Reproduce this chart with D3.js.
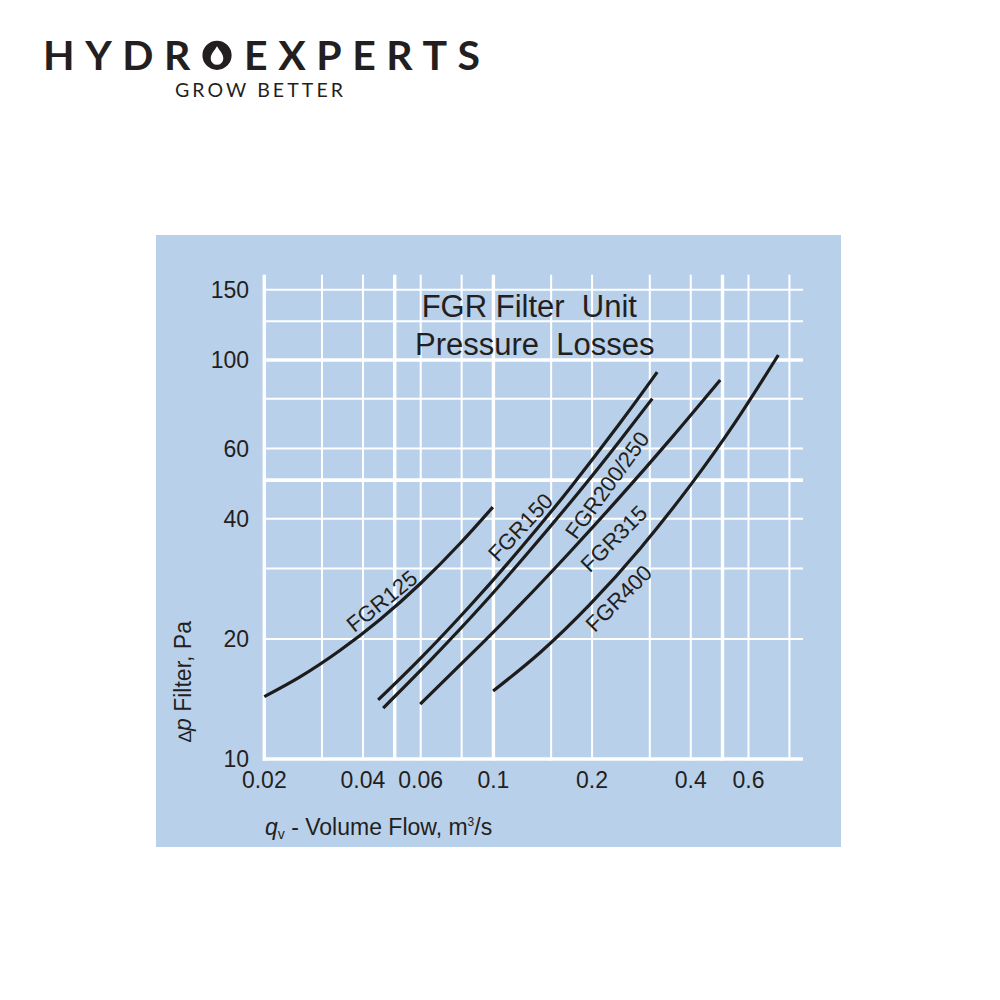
<!DOCTYPE html>
<html>
<head>
<meta charset="utf-8">
<script src="https://cdn.jsdelivr.net/npm/d3@7"></script>
<style>
  body { margin: 0; background: #fff; }
  text { font-family: "Liberation Sans", Arial, sans-serif; fill: #231f20; }
</style>
</head>
<body>
<div id="chart"></div>
<script>
// grid and tick values (log paper)
var xGrid = [0.02, 0.03, 0.04, 0.05, 0.06, 0.08, 0.1, 0.15, 0.2, 0.3, 0.4, 0.5, 0.6, 0.8];
var xLabels = [0.02, 0.04, 0.06, 0.1, 0.2, 0.4, 0.6];
var xBold = [0.02, 0.05, 0.1, 0.5];
var yGrid = [10, 20, 30, 40, 50, 60, 80, 100, 125, 150];
var yLabels = [10, 20, 40, 60, 100, 150];
var yBold = [10, 50, 100];

// volume flow (m3/s) and pressure loss (Pa)
var fgr125Flow = [0.02, 0.0257, 0.034, 0.0451, 0.0598, 0.0791, 0.0996];
var fgr125Loss = [14.33, 16.06, 18.7, 22.37, 27.49, 34.68, 42.78];
var fgr150Flow = [0.0445, 0.0598, 0.0849, 0.1207, 0.1715, 0.2437, 0.316];
var fgr150Loss = [14.06, 17.84, 24.21, 33.64, 47.8, 69.58, 93.2];
var fgr200Flow = [0.0461, 0.0641, 0.0911, 0.1294, 0.184, 0.2437, 0.3053];
var fgr200Loss = [13.42, 17.65, 24.0, 33.35, 47.1, 62.95, 80.0];
var fgr315Flow = [0.0598, 0.0849, 0.1207, 0.1715, 0.2437, 0.3463, 0.492];
var fgr315Loss = [13.73, 18.2, 24.36, 33.07, 45.44, 63.24, 89.1];
var fgr400Flow = [0.0998, 0.1389, 0.1973, 0.2805, 0.3986, 0.547, 0.740];
var fgr400Loss = [14.8, 18.49, 24.43, 33.7, 48.5, 69.85, 102.9];

// curve labels
var labelNames = ["FGR125", "FGR150", "FGR200/250", "FGR315", "FGR400"];
var labelFlow = [0.0456, 0.1207, 0.222, 0.2326, 0.2408];
var labelLoss = [24.9, 38.15, 48.6, 35.7, 25.3];
var labelAngle = [-39, -47, -54, -45, -45];

var series = [
    [fgr125Flow, fgr125Loss],
    [fgr150Flow, fgr150Loss],
    [fgr200Flow, fgr200Loss],
    [fgr315Flow, fgr315Loss],
    [fgr400Flow, fgr400Loss]
];

var svg = d3.select("#chart").append("svg")
    .attr("width", 1000).attr("height", 1000);

// ---- logo ----
var logo = svg.append("text")
    .attr("x", 43).attr("y", 70)
    .attr("textLength", 437).attr("lengthAdjust", "spacing")
    .style("font-family", "Lato, 'Open Sans', sans-serif")
    .style("font-weight", 700)
    .style("font-size", "41px");
logo.append("tspan").text("HYDR");
logo.append("tspan").style("fill", "none").text("O");
logo.append("tspan").text("EXPERTS");

// the drop shaped O, placed where the hidden O sits
var ob = logo.node().getExtentOfChar(4);
var ocx = ob.x + ob.width / 2, ocy = 55.3, r = 14.6;
svg.append("path")
    .attr("transform", "translate(" + ocx + "," + ocy + ")")
    .attr("fill", "#231f20")
    .attr("fill-rule", "evenodd")
    .attr("d", "M0," + (-r) + "A" + r + "," + r + " 0 1 1 0," + r + "A" + r + "," + r + " 0 1 1 0," + (-r) + "Z" +
        "M0,-9C2.5,-4.5 6.3,-1.5 6.3,3.2A6.3,6.3 0 1 1 -6.3,3.2C-6.3,-1.5 -2.5,-4.5 0,-9Z");

svg.append("text")
    .attr("x", 175).attr("y", 97.3)
    .attr("textLength", 168).attr("lengthAdjust", "spacing")
    .style("font-family", "Lato, 'Open Sans', sans-serif")
    .style("font-size", "19.5px")
    .text("GROW BETTER");

// ---- panel ----
svg.append("rect")
    .attr("x", 156).attr("y", 235)
    .attr("width", 685).attr("height", 612)
    .attr("fill", "#b9d0ea");

var x = d3.scaleLog().domain([0.02, 0.88]).range([264.3, 803]);
var y = d3.scaleLog().domain([10, 150]).range([759, 289.7]);

var grid = svg.append("g").attr("stroke", "#fff");

grid.selectAll(".h").data(yGrid).enter().append("line")
    .attr("x1", x(0.02) - 1.5).attr("x2", x(0.88))
    .attr("y1", function(d) { return y(d); })
    .attr("y2", function(d) { return y(d); })
    .attr("stroke-width", function(d) { return yBold.indexOf(d) > -1 ? 3.6 : 2; });

grid.selectAll(".v").data(xGrid).enter().append("line")
    .attr("y1", y(10) + 1.5).attr("y2", y(150) - 15)
    .attr("x1", function(d) { return x(d); })
    .attr("x2", function(d) { return x(d); })
    .attr("stroke-width", function(d) { return xBold.indexOf(d) > -1 ? 3.4 : 2; });

// ---- tick labels ----
svg.selectAll(".xl").data(xLabels).enter().append("text")
    .attr("x", function(d) { return x(d); })
    .attr("y", 788)
    .attr("text-anchor", "middle")
    .style("font-size", "23px")
    .text(function(d) { return d; });

svg.selectAll(".yl").data(yLabels).enter().append("text")
    .attr("x", 249)
    .attr("y", function(d) { return y(d); })
    .attr("dy", "0.36em")
    .attr("text-anchor", "end")
    .style("font-size", "23px")
    .text(function(d) { return d; });

// ---- curves ----
var line = d3.line()
    .x(function(d) { return x(d[0]); })
    .y(function(d) { return y(d[1]); })
    .curve(d3.curveNatural);

svg.selectAll(".curve").data(series).enter().append("path")
    .attr("fill", "none")
    .attr("stroke", "#1c1c1c")
    .attr("stroke-width", 3.2)
    .attr("d", function(s) {
        return line(s[0].map(function(q, i) { return [q, s[1][i]]; }));
    });

svg.selectAll(".lab").data(labelNames).enter().append("text")
    .attr("transform", function(d, i) {
        return "translate(" + x(labelFlow[i]) + "," + y(labelLoss[i]) + ") rotate(" + labelAngle[i] + ")";
    })
    .attr("text-anchor", "middle")
    .attr("dy", "0.36em")
    .style("font-size", "22px")
    .text(function(d) { return d; });

// ---- titles ----
var title = svg.append("g").style("font-size", "31px");
title.append("text").attr("x", 421.7).attr("y", 316.7).text("FGR Filter\u00a0 Unit");
title.append("text").attr("x", 415).attr("y", 355).text("Pressure\u00a0 Losses");

var xt = svg.append("text")
    .attr("x", 265).attr("y", 835)
    .style("font-size", "23px");
xt.append("tspan").style("font-style", "italic").text("q");
xt.append("tspan").attr("dy", 4).style("font-size", "14px").text("v");
xt.append("tspan").attr("dy", -4).text(" - Volume Flow, m");
xt.append("tspan").attr("dy", -9).style("font-size", "12px").text("3");
xt.append("tspan").attr("dy", 9).text("/s");

var yt = svg.append("text")
    .attr("transform", "translate(191,742) rotate(-90)")
    .style("font-size", "23px");
yt.append("tspan").style("font-size", "18px").text("\u2206");
yt.append("tspan").style("font-style", "italic").text("p");
yt.append("tspan").text(" Filter, Pa");
</script>
</body>
</html>
